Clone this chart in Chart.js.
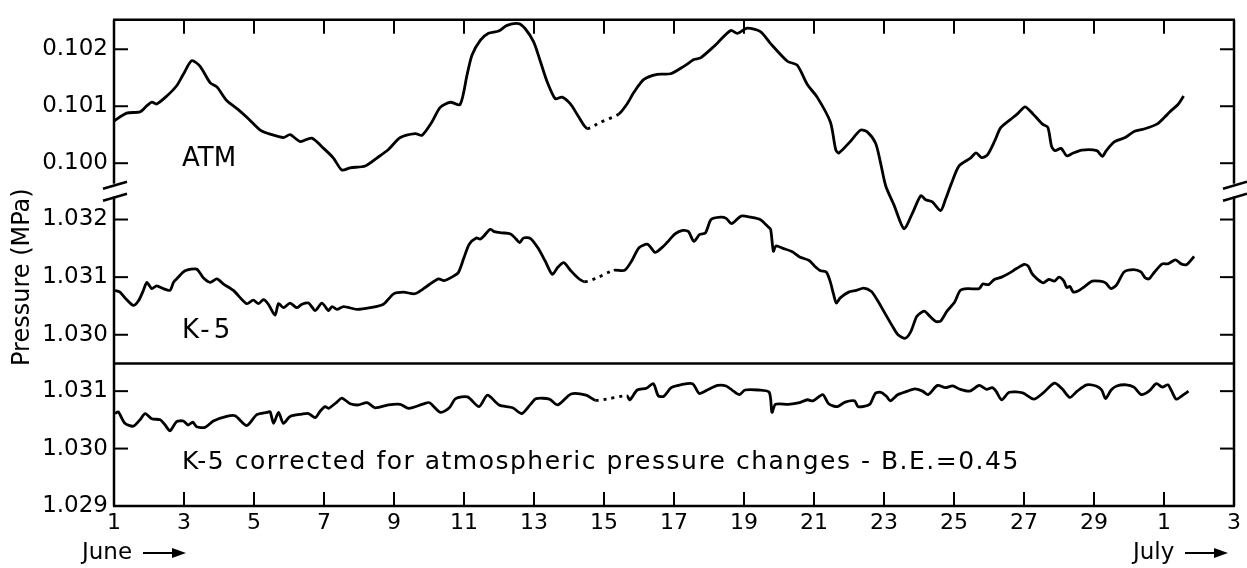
<!DOCTYPE html>
<html>
<head>
<meta charset="utf-8">
<script src="https://cdn.jsdelivr.net/npm/chart.js@4"></script>
<style>
  html, body { margin: 0; background: #fff; }
  canvas { display: block; }
</style>
</head>
<body>
<canvas id="chart" width="1247" height="568"></canvas>
<script>
// days counted from June 1 (31 = July 1)
const dayTicks = [1, 3, 5, 7, 9, 11, 13, 15, 17, 19, 21, 23, 25, 27, 29, 31, 33];
const topTicks = [0.100, 0.101, 0.102];
const midTicks = [1.030, 1.031, 1.032];
const botTicks = [1.029, 1.030, 1.031];

const atmDays = [1.00,1.36,1.74,1.94,2.08,2.22,2.51,2.79,2.98,3.22,3.46,3.75,3.94,4.22,4.55,4.84,5.18,5.46,5.84,6.03,6.32,6.65,6.99,7.27,7.51,7.75,8.18,8.51,8.84,9.18,9.61,9.80,10.08,10.32,10.61,10.89,11.09,11.23,11.47,11.70,11.99,12.23,12.56,12.75,12.99,13.18,13.37,13.61,13.80,14.04,14.28,14.52,14.90,15.42,15.66,15.85,16.14,16.52,16.90,17.28,17.57,17.76,18.14,18.62,18.81,19.09,19.47,19.76,20.24,20.52,20.81,21.09,21.47,21.62,21.71,22.02,22.33,22.52,22.76,22.90,23.05,23.29,23.57,23.81,24.05,24.19,24.38,24.62,24.76,24.93,25.14,25.47,25.63,25.79,25.95,26.17,26.33,26.60,26.82,27.03,27.25,27.52,27.68,27.79,27.89,28.06,28.22,28.38,28.65,29.08,29.24,29.35,29.57,29.89,30.16,30.43,30.81,31.02,31.18,31.40,31.56];
const atmValues = [0.10074,0.10088,0.10090,0.10101,0.10107,0.10104,0.10118,0.10136,0.10156,0.10180,0.10170,0.10141,0.10134,0.10110,0.10094,0.10078,0.10058,0.10051,0.10045,0.10050,0.10038,0.10044,0.10026,0.10009,0.09988,0.09992,0.09995,0.10009,0.10024,0.10045,0.10052,0.10049,0.10072,0.10098,0.10107,0.10103,0.10156,0.10190,0.10216,0.10228,0.10232,0.10242,0.10245,0.10236,0.10213,0.10179,0.10144,0.10113,0.10116,0.10104,0.10081,0.10061,0.10072,0.10086,0.10104,0.10124,0.10147,0.10156,0.10157,0.10170,0.10182,0.10185,0.10205,0.10233,0.10228,0.10237,0.10231,0.10210,0.10179,0.10172,0.10138,0.10116,0.10072,0.10024,0.10018,0.10037,0.10058,0.10055,0.10035,0.10001,0.09960,0.09926,0.09885,0.09912,0.09943,0.09936,0.09932,0.09917,0.09937,0.09965,0.09995,0.10009,0.10018,0.10010,0.10014,0.10040,0.10062,0.10076,0.10087,0.10099,0.10087,0.10069,0.10063,0.10029,0.10022,0.10026,0.10013,0.10017,0.10023,0.10022,0.10012,0.10022,0.10037,0.10045,0.10056,0.10060,0.10069,0.10081,0.10091,0.10103,0.10118];
const atmGap = [14.52, 15.42];

const k5Days = [1.03,1.17,1.36,1.55,1.70,1.84,1.94,2.08,2.22,2.41,2.60,2.70,2.79,3.03,3.36,3.55,3.75,3.94,4.13,4.41,4.79,4.98,5.13,5.27,5.41,5.60,5.70,5.84,6.03,6.22,6.37,6.56,6.75,6.94,7.13,7.23,7.37,7.56,7.94,8.32,8.70,8.99,9.27,9.56,9.70,9.96,10.27,10.43,10.68,10.84,11.00,11.15,11.35,11.46,11.56,11.75,11.87,12.08,12.33,12.49,12.59,12.70,12.90,13.11,13.32,13.52,13.68,13.85,14.04,14.25,14.45,14.81,15.28,15.59,15.79,16.00,16.25,16.46,16.67,16.80,17.03,17.25,17.41,17.57,17.73,17.90,18.06,18.33,18.49,18.65,18.92,19.19,19.46,19.68,19.76,19.84,19.91,20.11,20.38,20.59,20.86,21.02,21.19,21.35,21.46,21.56,21.64,21.75,21.99,22.21,22.42,22.64,22.80,23.02,23.24,23.40,23.61,23.77,23.94,24.15,24.31,24.48,24.62,24.80,25.02,25.18,25.39,25.72,25.82,25.99,26.15,26.36,26.58,26.79,27.01,27.12,27.23,27.39,27.55,27.71,27.87,28.00,28.14,28.22,28.31,28.41,28.57,28.74,28.95,29.17,29.33,29.49,29.65,29.86,30.13,30.34,30.46,30.57,30.73,30.95,31.11,31.33,31.49,31.65,31.86];
const k5Values = [1.03077,1.03074,1.03061,1.03051,1.03059,1.03077,1.03091,1.03080,1.03085,1.03080,1.03077,1.03091,1.03097,1.03111,1.03114,1.03099,1.03091,1.03097,1.03088,1.03077,1.03054,1.03060,1.03054,1.03061,1.03053,1.03034,1.03054,1.03047,1.03055,1.03047,1.03053,1.03055,1.03042,1.03055,1.03042,1.03049,1.03044,1.03049,1.03044,1.03047,1.03053,1.03071,1.03074,1.03071,1.03074,1.03085,1.03097,1.03094,1.03101,1.03108,1.03134,1.03157,1.03168,1.03166,1.03171,1.03183,1.03179,1.03177,1.03175,1.03166,1.03160,1.03168,1.03167,1.03151,1.03128,1.03105,1.03117,1.03125,1.03112,1.03099,1.03092,1.03099,1.03112,1.03112,1.03128,1.03151,1.03157,1.03143,1.03152,1.03160,1.03175,1.03181,1.03179,1.03162,1.03174,1.03177,1.03200,1.03204,1.03202,1.03193,1.03206,1.03204,1.03200,1.03188,1.03183,1.03145,1.03154,1.03150,1.03144,1.03135,1.03129,1.03119,1.03111,1.03109,1.03093,1.03070,1.03055,1.03064,1.03074,1.03077,1.03081,1.03075,1.03061,1.03038,1.03015,1.03000,1.02994,1.03006,1.03032,1.03041,1.03032,1.03023,1.03024,1.03041,1.03057,1.03077,1.03080,1.03080,1.03088,1.03087,1.03096,1.03100,1.03107,1.03115,1.03122,1.03119,1.03106,1.03096,1.03090,1.03096,1.03093,1.03100,1.03093,1.03082,1.03084,1.03074,1.03077,1.03084,1.03093,1.03093,1.03090,1.03080,1.03087,1.03109,1.03113,1.03109,1.03099,1.03097,1.03109,1.03123,1.03123,1.03130,1.03123,1.03122,1.03136];
const k5Gap = [14.45, 15.28];

const corrDays = [1.03,1.12,1.31,1.55,1.74,1.89,2.08,2.32,2.46,2.60,2.79,2.98,3.12,3.25,3.36,3.60,3.84,4.22,4.46,4.79,5.08,5.37,5.46,5.56,5.70,5.84,6.03,6.37,6.56,6.75,6.89,7.03,7.13,7.37,7.51,7.75,7.99,8.23,8.46,8.84,9.18,9.42,9.85,10.01,10.33,10.58,10.76,11.10,11.43,11.67,12.00,12.39,12.65,12.90,13.06,13.44,13.68,14.06,14.49,14.76,15.16,15.65,15.74,15.95,16.21,16.41,16.55,16.71,16.92,17.19,17.53,17.72,17.95,18.25,18.49,18.70,18.87,19.03,19.41,19.72,19.80,19.90,20.27,20.59,20.81,20.97,21.25,21.42,21.67,21.89,22.16,22.26,22.59,22.75,22.91,23.07,23.18,23.40,23.67,23.88,24.10,24.26,24.53,24.75,24.96,25.18,25.45,25.72,25.93,26.09,26.20,26.36,26.58,26.96,27.28,27.55,27.87,28.09,28.31,28.52,28.79,29.06,29.22,29.33,29.49,29.65,29.92,30.14,30.35,30.57,30.78,30.95,31.11,31.22,31.35,31.54,31.70];
const corrValues = [1.03061,1.03064,1.03044,1.03039,1.03050,1.03061,1.03052,1.03050,1.03041,1.03031,1.03047,1.03048,1.03041,1.03046,1.03038,1.03037,1.03048,1.03056,1.03057,1.03040,1.03059,1.03063,1.03064,1.03044,1.03063,1.03044,1.03056,1.03060,1.03061,1.03054,1.03065,1.03073,1.03070,1.03081,1.03088,1.03078,1.03076,1.03080,1.03071,1.03076,1.03077,1.03070,1.03078,1.03080,1.03063,1.03071,1.03087,1.03090,1.03073,1.03093,1.03076,1.03071,1.03061,1.03077,1.03087,1.03086,1.03076,1.03095,1.03093,1.03084,1.03087,1.03092,1.03085,1.03102,1.03105,1.03113,1.03092,1.03091,1.03106,1.03111,1.03113,1.03096,1.03102,1.03110,1.03109,1.03100,1.03094,1.03102,1.03102,1.03098,1.03063,1.03077,1.03077,1.03080,1.03085,1.03083,1.03094,1.03078,1.03073,1.03081,1.03083,1.03073,1.03077,1.03096,1.03098,1.03091,1.03083,1.03094,1.03100,1.03104,1.03100,1.03094,1.03110,1.03106,1.03109,1.03103,1.03100,1.03110,1.03103,1.03106,1.03100,1.03085,1.03098,1.03097,1.03086,1.03097,1.03114,1.03104,1.03089,1.03100,1.03111,1.03109,1.03102,1.03087,1.03102,1.03109,1.03111,1.03107,1.03094,1.03100,1.03113,1.03107,1.03111,1.03100,1.03086,1.03093,1.03100];
const corrGap = [14.76, 15.65];

const FONT = '"DejaVu Sans", sans-serif';
const INK = '#000';

function pts(days, vals) {
  return days.map((d, i) => ({x: d, y: vals[i]}));
}

// dotted where the record is missing
function gapDash(gap) {
  return c => (c.p0.parsed.x >= gap[0] - 1e-6 && c.p1.parsed.x <= gap[1] + 1e-6) ? [3, 5] : undefined;
}

function series(days, vals, gap, axis) {
  return {
    data: pts(days, vals),
    yAxisID: axis,
    borderColor: INK,
    borderWidth: 2.8,
    pointRadius: 0,
    tension: 0.25,
    borderJoinStyle: 'round',
    clip: false,
    segment: {borderDash: gapDash(gap)}
  };
}

function yAxis(ticks, min, max, weight, stackWeight, title) {
  return {
    type: 'linear',
    position: 'left',
    stack: 'panels',
    stackWeight: stackWeight,
    weight: weight,
    min: min,
    max: max,
    afterBuildTicks: s => { s.ticks = ticks.map(v => ({value: v})); },
    afterFit: s => { s.width = 114; },
    grid: {display: false, drawTicks: false},
    border: {display: false},
    ticks: {
      color: INK,
      padding: 6,
      font: {family: FONT, size: 23},
      callback: v => v.toFixed(3)
    },
    title: title ? {
      display: true,
      text: title,
      color: INK,
      font: {family: FONT, size: 24},
      padding: {top: 8, bottom: 0}
    } : {display: false}
  };
}

const framePlugin = {
  id: 'frame',
  afterDraw(chart) {
    const {ctx, chartArea: a, scales} = chart;
    const x = scales.x, yT = scales.yTop, yM = scales.yMid, yB = scales.yBot;
    const line = (x1, y1, x2, y2) => {
      ctx.beginPath(); ctx.moveTo(x1, y1); ctx.lineTo(x2, y2); ctx.stroke();
    };
    ctx.save();
    ctx.strokeStyle = INK;
    ctx.fillStyle = INK;
    ctx.lineWidth = 2.5;

    // frame with axis breaks between ATM and K-5
    const brk = yT.bottom;
    line(a.left - 1, a.top, a.right + 1, a.top);
    line(a.left - 1, a.bottom, a.right + 1, a.bottom);
    line(a.left, yB.top, a.right, yB.top);
    for (const sx of [a.left, a.right]) {
      line(sx, a.top, sx, brk - 7);
      line(sx, brk + 6, sx, a.bottom);
      line(sx - 11, brk - 2, sx + 13, brk - 9);
      line(sx - 11, brk + 10, sx + 13, brk + 3);
    }

    // inward tick marks
    ctx.lineWidth = 2;
    const L = 14;
    dayTicks.forEach(d => {
      if (d <= x.min || d >= x.max) return;
      const px = x.getPixelForValue(d);
      line(px, a.top, px, a.top + L);
      line(px, a.bottom, px, a.bottom - L);
    });
    [[yT, topTicks], [yM, midTicks], [yB, botTicks]].forEach(([s, vals]) => {
      vals.forEach(v => {
        const py = s.getPixelForValue(v);
        line(a.left, py, a.left + L, py);
        line(a.right, py, a.right - L, py);
      });
    });

    // panel labels
    ctx.textBaseline = 'middle';
    ctx.textAlign = 'left';
    ctx.font = '26px ' + FONT;
    const lx = x.getPixelForValue(3) - 2;
    ctx.fillText('ATM', lx, yT.getPixelForValue(0.10007));
    ctx.letterSpacing = '4px';
    ctx.fillText('K-5', lx, yM.getPixelForValue(1.03006));
    ctx.letterSpacing = '1.5px';
    ctx.font = '25px ' + FONT;
    ctx.fillText('K-5 corrected for atmospheric pressure changes - B.E.=0.45', lx, yB.getPixelForValue(1.029752));
    ctx.letterSpacing = '0px';

    // month captions with arrows
    const arrow = (x0, x1, y) => {
      ctx.lineWidth = 2;
      line(x0, y, x1 - 10, y);
      ctx.beginPath();
      ctx.moveTo(x1, y); ctx.lineTo(x1 - 14, y - 5); ctx.lineTo(x1 - 14, y + 5);
      ctx.closePath(); ctx.fill();
    };
    ctx.font = '23px ' + FONT;
    const my = a.bottom + 47;
    const jx = x.getPixelForValue(1) - 32;
    ctx.fillText('June', jx, my);
    arrow(jx + 61, jx + 104, my);
    const kx = x.getPixelForValue(33) - 101;
    ctx.fillText('July', kx, my);
    arrow(kx + 52, kx + 95, my);
    ctx.restore();
  }
};

new Chart(document.getElementById('chart'), {
  type: 'line',
  data: {
    datasets: [
      series(atmDays, atmValues, atmGap, 'yTop'),
      series(k5Days, k5Values, k5Gap, 'yMid'),
      series(corrDays, corrValues, corrGap, 'yBot')
    ]
  },
  options: {
    responsive: false,
    animation: false,
    layout: {padding: {top: 11, right: 13, left: 0, bottom: 0}},
    plugins: {legend: {display: false}, tooltip: {enabled: false}},
    scales: {
      x: {
        type: 'linear',
        position: 'bottom',
        min: 1,
        max: 33,
        afterBuildTicks: s => { s.ticks = dayTicks.map(v => ({value: v})); },
        afterFit: s => { s.height = 62; },
        grid: {display: false, drawTicks: false},
        border: {display: false},
        ticks: {
          color: INK,
          padding: 4,
          maxRotation: 0,
          autoSkip: false,
          font: {family: FONT, size: 22},
          callback: v => v > 30 ? v - 30 : v
        }
      },
      yTop: yAxis(topTicks, 0.0995172, 0.1025172, 3, 174),
      yMid: yAxis(midTicks, 1.0295, 1.0325, 2, 176, 'Pressure (MPa)'),
      yBot: yAxis(botTicks, 1.029, 1.03148, 1, 145)
    }
  },
  plugins: [framePlugin]
});
</script>
</body>
</html>
